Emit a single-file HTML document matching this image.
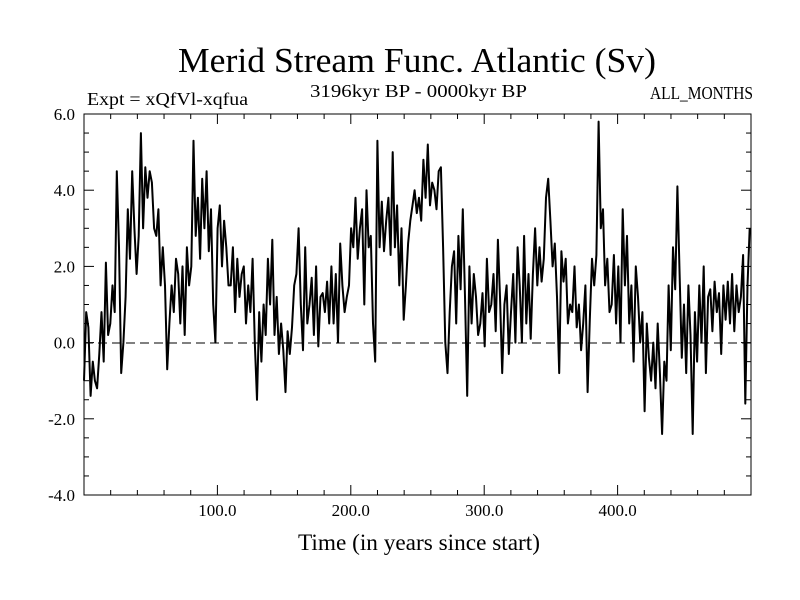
<!DOCTYPE html>
<html><head><meta charset="utf-8"><style>
body{margin:0;background:#fff}
svg{display:block}
text{font-family:"Liberation Serif",serif;fill:#000}
</style></head><body>
<svg id="c" width="800" height="600">
<text x="417" y="72" font-size="35" text-anchor="middle" textLength="478" lengthAdjust="spacingAndGlyphs">Merid Stream Func. Atlantic (Sv)</text>
<text x="87" y="105" font-size="18" textLength="161" lengthAdjust="spacingAndGlyphs">Expt = xQfVl-xqfua</text>
<text x="310" y="97" font-size="18" textLength="217" lengthAdjust="spacingAndGlyphs">3196kyr BP - 0000kyr BP</text>
<text x="650" y="99" font-size="18" textLength="103" lengthAdjust="spacingAndGlyphs">ALL_MONTHS</text>
<text x="298" y="550" font-size="23" textLength="242" lengthAdjust="spacingAndGlyphs">Time (in years since start)</text>
<g id="ticks"></g>
<line x1="84" y1="343" x2="751" y2="343" stroke="#000" stroke-width="1" stroke-dasharray="9,5"/>
<path id="series" fill="none" stroke="#000" stroke-width="2" stroke-linejoin="round"/>
<rect x="84" y="114" width="667" height="381" fill="none" stroke="#000" stroke-width="1"/>
</svg>
<script>
const values = [
-1,0.8,0.4,-1.4,-0.5,-1.0,
-1.2,-0.3,0.8,-0.5,2.1,0.2,
0.5,1.5,0.8,4.5,2.5,-0.8,
0.0,1.2,3.5,2.2,4.5,3.0,
1.8,2.8,5.5,3.0,4.6,3.8,
4.5,4.2,3.0,2.8,3.5,1.5,
2.5,1.5,-0.7,0.5,1.5,0.8,
2.2,1.8,0.5,2.0,0.2,2.5,
1.5,2.0,5.3,2.8,3.8,2.2,
4.3,3.0,4.5,2.4,3.5,1.0,
0.0,3.0,3.6,2.0,3.2,2.5,
1.5,1.5,2.5,0.8,2.2,1.2,
1.8,2.0,0.5,1.5,0.8,2.2,
0.0,-1.5,0.8,-0.5,1.0,0.2,
2.2,1.0,2.7,0.2,1.2,-0.3,
0.5,-0.2,-1.3,0.3,-0.3,0.4,
1.5,1.8,3.0,1.0,-0.2,2.5,
0.5,1.0,1.7,0.2,2.0,-0.1,
1.2,1.3,0.8,1.6,0.5,2.0,
0.5,1.8,0.0,2.6,1.5,0.8,
1.2,1.5,3.0,2.5,3.8,2.2,
3.0,3.5,1.0,4.0,2.5,2.8,
0.5,-0.5,5.3,2.5,3.7,2.4,
3.2,3.8,2.3,5.0,2.5,3.6,
1.5,3.0,0.6,1.5,2.6,3.2,
3.6,4.0,3.4,3.8,3.2,4.8,
3.8,5.2,3.6,4.2,4.0,3.5,
4.5,4.6,2.5,0.0,-0.8,0.8,
2.0,2.4,0.5,2.8,1.4,3.5,
1.2,-1.4,2.0,0.5,1.8,1.2,
0.2,0.5,1.3,-0.1,2.2,0.8,
1.0,1.8,0.3,2.7,1.2,-0.8,
1.0,1.5,-0.3,0.8,1.8,0.0,
2.5,1.5,0.0,2.8,0.5,1.8,
0.1,1.8,3.0,1.5,2.5,1.6,
2.2,3.8,4.3,3.2,2.0,2.6,
1.2,-0.8,2.4,1.6,2.2,0.5,
1.0,0.8,2.0,0.4,1.0,-0.2,
0.5,1.5,-1.3,0.6,2.2,1.5,
2.3,5.8,3.0,3.5,1.5,2.2,
0.8,1.0,2.3,0.5,2.0,0.0,
3.5,1.5,2.8,0.5,1.5,-0.5,
2.0,1.2,0.0,0.8,-1.8,0.5,
-0.4,-1.0,0.0,-1.2,0.5,-0.8,
-2.4,-0.5,-1.0,1.5,-0.2,2.5,
1.4,4.1,1.8,-0.4,1.0,-0.8,
1.5,0.2,-2.4,0.8,-0.5,1.5,
0.0,2.0,-0.8,1.2,1.4,0.3,
1.6,0.8,1.3,-0.3,1.5,0.6,
1.6,0.5,1.8,0.3,1.5,0.8,
1.2,2.3,-1.6,1.5,3.0
];
const xTickLabels = [100,200,300,400];
const yTickLabels = [-4,-2,0,2,4,6];
const X0=84,X1=751,Y0=495,Y1=114, tMax=499, vMin=-4, vMax=6;
const xs = t => X0 + (t/500)*(X1-X0);
const ys = v => Y0 - (v-vMin)/(vMax-vMin)*(Y0-Y1);
const NS='http://www.w3.org/2000/svg';
let d='';
values.forEach((v,i)=>{const t=i*tMax/(values.length-1);d+=(i?'L':'M')+xs(t).toFixed(1)+','+ys(v).toFixed(1);});
document.getElementById('series').setAttribute('d',d);
const g=document.getElementById('ticks');
function line(x1,y1,x2,y2,name){const l=document.createElementNS(NS,'line');l.setAttribute('x1',x1);l.setAttribute('y1',y1);l.setAttribute('x2',x2);l.setAttribute('y2',y2);l.setAttribute('stroke','#000');


g.appendChild(l);}
for(let t=20;t<500;t+=20){const major=t%100===0;const L=major?10:5;const x=xs(t);line(x,Y0,x,Y0-L,'x-tick');line(x,Y1,x,Y1+L,'x-tick');}
for(let v=-3.5;v<6;v+=0.5){const major=Math.abs(v%2)<1e-9;const L=major?10:5;const y=ys(v);line(X0,y,X0+L,y,'y-tick');line(X1,y,X1-L,y,'y-tick');}
xTickLabels.forEach(t=>{const e=document.createElementNS(NS,'text');e.setAttribute('x',xs(t));e.setAttribute('y',Y0+21);e.setAttribute('font-size','17');e.setAttribute('text-anchor','middle');e.textContent=t.toFixed(1);


g.appendChild(e);});
yTickLabels.forEach(v=>{const e=document.createElementNS(NS,'text');e.setAttribute('x',X0-9);e.setAttribute('y',ys(v)+6);e.setAttribute('font-size','17');e.setAttribute('text-anchor','end');e.textContent=v.toFixed(1);


g.appendChild(e);});
</script>
</body></html>
